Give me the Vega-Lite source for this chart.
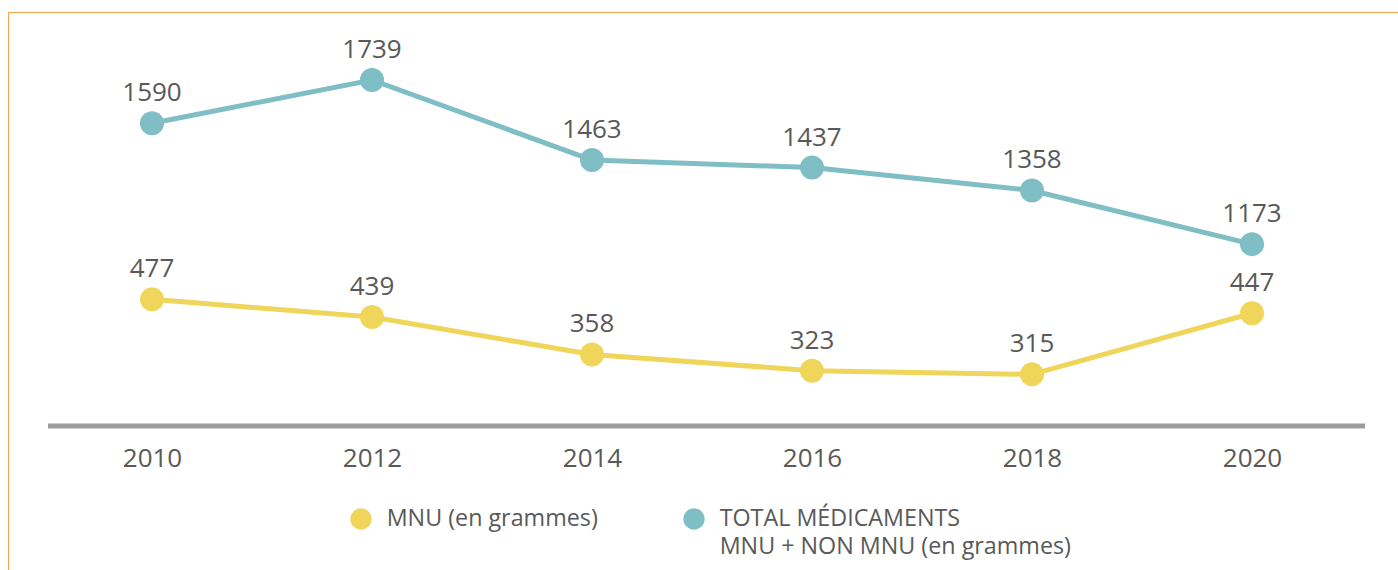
{
  "$schema": "https://vega.github.io/schema/vega-lite/v6.json",
  "width": 1391,
  "height": 559,
  "autosize": {"type": "none"},
  "padding": {"left": 8, "top": 12, "right": 0, "bottom": 0},
  "background": "white",
  "config": {
    "view": {"stroke": "#f6a24f", "strokeWidth": 1},
    "axisX": {"domain": false, "ticks": false, "grid": false, "labelPadding": 19, "labelFontSize": 26, "labelColor": "#595959", "labelFont": "Open Sans", "offset": -145, "labelFlush": false},
    "style": {"guide-label": {"lineHeight": 28}}
  },
  "datasets": {
    "d": [
      {"annee": 2010, "serie": "MNU (en grammes)", "valeur": 477},
      {"annee": 2012, "serie": "MNU (en grammes)", "valeur": 439},
      {"annee": 2014, "serie": "MNU (en grammes)", "valeur": 358},
      {"annee": 2016, "serie": "MNU (en grammes)", "valeur": 323},
      {"annee": 2018, "serie": "MNU (en grammes)", "valeur": 315},
      {"annee": 2020, "serie": "MNU (en grammes)", "valeur": 447},
      {"annee": 2010, "serie": "TOTAL MÉDICAMENTS MNU + NON MNU (en grammes)", "valeur": 1590},
      {"annee": 2012, "serie": "TOTAL MÉDICAMENTS MNU + NON MNU (en grammes)", "valeur": 1739},
      {"annee": 2014, "serie": "TOTAL MÉDICAMENTS MNU + NON MNU (en grammes)", "valeur": 1463},
      {"annee": 2016, "serie": "TOTAL MÉDICAMENTS MNU + NON MNU (en grammes)", "valeur": 1437},
      {"annee": 2018, "serie": "TOTAL MÉDICAMENTS MNU + NON MNU (en grammes)", "valeur": 1358},
      {"annee": 2020, "serie": "TOTAL MÉDICAMENTS MNU + NON MNU (en grammes)", "valeur": 1173}
    ]
  },
  "data": {"name": "d"},
  "resolve": {"scale": {"y": "independent"}},
  "layer": [
    {
      "transform": [{"filter": {"field": "serie", "equal": "MNU (en grammes)"}}],
      "layer": [
        {
          "data": {"values": [{}]},
          "mark": {"type": "rule", "color": "#9d9d9d", "strokeWidth": 5},
          "encoding": {
            "x": {"datum": 2009.0545, "type": "quantitative", "scale": {"domain": [2008.69091, 2021.33636], "nice": false, "zero": false}, "axis": {"values": [2010, 2012, 2014, 2016, 2018, 2020], "format": "d", "title": null}},
            "x2": {"datum": 2021.0273},
            "y": {"datum": 203.5, "type": "quantitative", "scale": {"domain": [-109.69, 1097.65], "nice": false, "zero": false}, "axis": null}
          }
        },
        {
          "mark": {"type": "line", "color": "#efd65a", "strokeWidth": 5},
          "encoding": {
            "x": {"field": "annee", "type": "quantitative", "scale": {"domain": [2008.69091, 2021.33636], "nice": false, "zero": false}, "axis": {"values": [2010, 2012, 2014, 2016, 2018, 2020], "format": "d", "title": null}},
            "y": {"field": "valeur", "type": "quantitative", "scale": {"domain": [-109.69, 1097.65], "nice": false, "zero": false}, "axis": null}
          }
        },
        {
          "mark": {"type": "point", "filled": true, "shape": "circle", "size": 576, "opacity": 1},
          "encoding": {
            "x": {"field": "annee", "type": "quantitative", "scale": {"domain": [2008.69091, 2021.33636], "nice": false, "zero": false}, "axis": {"values": [2010, 2012, 2014, 2016, 2018, 2020], "format": "d", "title": null}},
            "y": {"field": "valeur", "type": "quantitative", "scale": {"domain": [-109.69, 1097.65], "nice": false, "zero": false}, "axis": null},
            "color": {
              "field": "serie", "type": "nominal",
              "scale": {"domain": ["MNU (en grammes)", "TOTAL MÉDICAMENTS MNU + NON MNU (en grammes)"], "range": ["#efd65a", "#7fbec4"]},
              "legend": {
                "orient": "none", "legendX": 341.35, "legendY": 495.35, "direction": "horizontal", "title": null,
                "symbolType": "circle", "symbolSize": 454, "symbolStrokeWidth": 0, "symbolOpacity": 1,
                "labelFontSize": 23.3, "labelFont": "Open Sans", "labelColor": "#595959", "labelOffset": 14, "labelLimit": 0,
                "labelBaseline": "middle", "columnPadding": 84, "padding": 0,
                "labelExpr": "datum.label == 'MNU (en grammes)' ? ['MNU (en grammes)', ''] : ['TOTAL MÉDICAMENTS', 'MNU + NON MNU (en grammes)']"
              }
            }
          }
        },
        {
          "mark": {"type": "text", "dy": -22, "baseline": "alphabetic", "fontSize": 26, "color": "#595959", "font": "Open Sans"},
          "encoding": {
            "x": {"field": "annee", "type": "quantitative", "scale": {"domain": [2008.69091, 2021.33636], "nice": false, "zero": false}, "axis": {"values": [2010, 2012, 2014, 2016, 2018, 2020], "format": "d", "title": null}},
            "y": {"field": "valeur", "type": "quantitative", "scale": {"domain": [-109.69, 1097.65], "nice": false, "zero": false}, "axis": null},
            "text": {"field": "valeur", "type": "quantitative", "format": "d"}
          }
        }
      ]
    },
    {
      "transform": [{"filter": {"field": "serie", "equal": "TOTAL MÉDICAMENTS MNU + NON MNU (en grammes)"}}],
      "layer": [
        {
          "mark": {"type": "line", "color": "#7fbec4", "strokeWidth": 5},
          "encoding": {
            "x": {"field": "annee", "type": "quantitative", "scale": {"domain": [2008.69091, 2021.33636], "nice": false, "zero": false}, "axis": {"values": [2010, 2012, 2014, 2016, 2018, 2020], "format": "d", "title": null}},
            "y": {"field": "valeur", "type": "quantitative", "scale": {"domain": [45.89, 1973.48], "nice": false, "zero": false}, "axis": null}
          }
        },
        {
          "mark": {"type": "point", "filled": true, "shape": "circle", "size": 576, "opacity": 1},
          "encoding": {
            "x": {"field": "annee", "type": "quantitative", "scale": {"domain": [2008.69091, 2021.33636], "nice": false, "zero": false}, "axis": {"values": [2010, 2012, 2014, 2016, 2018, 2020], "format": "d", "title": null}},
            "y": {"field": "valeur", "type": "quantitative", "scale": {"domain": [45.89, 1973.48], "nice": false, "zero": false}, "axis": null},
            "color": {"field": "serie", "type": "nominal"}
          }
        },
        {
          "mark": {"type": "text", "dy": -22, "baseline": "alphabetic", "fontSize": 26, "color": "#595959", "font": "Open Sans"},
          "encoding": {
            "x": {"field": "annee", "type": "quantitative", "scale": {"domain": [2008.69091, 2021.33636], "nice": false, "zero": false}, "axis": {"values": [2010, 2012, 2014, 2016, 2018, 2020], "format": "d", "title": null}},
            "y": {"field": "valeur", "type": "quantitative", "scale": {"domain": [45.89, 1973.48], "nice": false, "zero": false}, "axis": null},
            "text": {"field": "valeur", "type": "quantitative", "format": "d"}
          }
        }
      ]
    }
  ]
}
